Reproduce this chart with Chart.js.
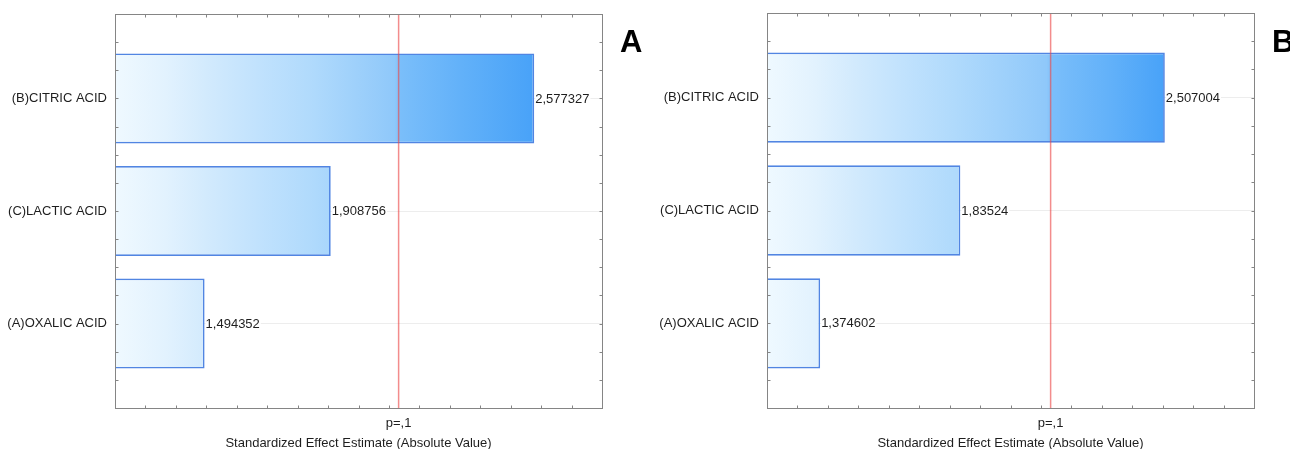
<!DOCTYPE html>
<html>
<head>
<meta charset="utf-8">
<script src="https://cdn.jsdelivr.net/npm/chart.js@4/dist/chart.umd.min.js"></script>
<style>
  html, body { margin: 0; padding: 0; background: #fff; overflow: hidden; }
  #wrap { position: relative; width: 1290px; height: 449px; }
  #wrap canvas { position: absolute; top: 0; }
</style>
</head>
<body>
<div id="wrap">
  <canvas id="chartA" width="645" height="449" style="left:0"></canvas>
  <canvas id="chartB" width="645" height="449" style="left:645px"></canvas>
</div>
<script>
// Pareto chart of standardized effects, two experiments side by side
const categories = ['(B)CITRIC ACID', '(C)LACTIC ACID', '(A)OXALIC ACID'];
const effectsA = [2.577327, 1.908756, 1.494352];
const effectsB = [2.507004, 1.83524, 1.374602];
const criticalT = 2.1318;          // t value for p = .1
const criticalLabel = 'p=,1';
const panelLetters = ['A', 'B'];
const axisTitle = 'Standardized Effect Estimate (Absolute Value)';
const xRange = [1.2, 2.8];
const yRange = [-0.75, 2.75];
const yMinorStep = 0.25;

const FONT = '"Liberation Sans", Arial, sans-serif';
const TEXT = '#1e1e1e';

// horizontal gradient shared by all bars in a panel, running up to the longest bar
function barGradient(chart) {
  const area = chart.chartArea;
  if (!area) return '#a8d5fc';
  const xs = chart.scales.x;
  const vals = chart.data.datasets[0].data.map(d => d.x);
  const end = xs.getPixelForValue(Math.max(...vals));
  const start = area.left;
  const g = chart.ctx.createLinearGradient(start, 0, end, 0);
  let c = (xs.getPixelForValue(criticalT) - start) / (end - start);
  c = Math.min(0.95, Math.max(0.05, c));
  g.addColorStop(0, '#eff9ff');
  g.addColorStop(0.12, '#e2f2fe');
  g.addColorStop(0.22, '#d2eafd');
  g.addColorStop(0.34, '#c1e2fd');
  g.addColorStop(0.47, '#b0dafc');
  g.addColorStop(c - 0.01, '#8fc8fa');
  g.addColorStop(c + 0.005, '#7abefa');
  g.addColorStop(Math.min(0.99, c + 0.15), '#62b1f9');
  g.addColorStop(1, '#48a2f8');
  return g;
}

const paretoDecor = {
  id: 'paretoDecor',
  afterDatasetsDraw(chart) {
    const { ctx, chartArea: a, scales: { x } } = chart;
    const meta = chart.getDatasetMeta(0);
    ctx.save();
    ctx.font = `13px ${FONT}`;
    ctx.textBaseline = 'middle';
    ctx.textAlign = 'left';
    meta.data.forEach((bar, i) => {
      const v = chart.data.datasets[0].data[i].x;
      const txt = String(v).replace('.', ',');
      const w = ctx.measureText(txt).width;
      ctx.fillStyle = '#fff';
      ctx.fillRect(bar.x + 1, bar.y - 6, w + 1, 12);
      ctx.fillStyle = TEXT;
      ctx.fillText(txt, bar.x + 1, bar.y + 0.5);
    });
    // critical value reference line
    const cx = x.getPixelForValue(criticalT);
    ctx.strokeStyle = 'rgba(236, 70, 70, 0.62)';
    ctx.lineWidth = 1.5;
    ctx.beginPath();
    ctx.moveTo(cx, a.top);
    ctx.lineTo(cx, a.bottom);
    ctx.stroke();
    ctx.restore();
  },
  afterDraw(chart, args, opts) {
    const { ctx, chartArea: a, scales: { x, y } } = chart;
    ctx.save();
    // plot frame
    ctx.strokeStyle = '#858585';
    ctx.lineWidth = 1;
    const L = Math.round(a.left) + 0.5, T = Math.round(a.top) + 0.5;
    const R = Math.round(a.right) + 0.5, B = Math.round(a.bottom) + 0.5;
    ctx.strokeRect(L, T, R - L, B - T);
    // inward tick marks on all four sides
    ctx.beginPath();
    x.ticks.forEach(t => {
      if (t.value === criticalT) return;
      const px = Math.round(x.getPixelForValue(t.value)) + 0.5;
      ctx.moveTo(px, T); ctx.lineTo(px, T + 3);
      ctx.moveTo(px, B); ctx.lineTo(px, B - 3);
    });
    const nMinor = Math.round((yRange[1] - yRange[0]) / yMinorStep);
    for (let k = 0; k <= nMinor; k++) {
      const py = Math.round(y.getPixelForValue(yRange[0] + k * yMinorStep)) + 0.5;
      ctx.moveTo(L, py); ctx.lineTo(L + 3, py);
      ctx.moveTo(R, py); ctx.lineTo(R - 3, py);
    }
    ctx.stroke();
    // panel letter
    if (opts && opts.letter) {
      ctx.font = `bold 31px ${FONT}`;
      ctx.fillStyle = '#000';
      ctx.textBaseline = 'alphabetic';
      ctx.textAlign = 'left';
      ctx.fillText(opts.letter, a.right + 18, 52);
    }
    ctx.restore();
  }
};

function makePareto(canvasId, values, letter, frame) {
  return new Chart(document.getElementById(canvasId), {
    type: 'bar',
    data: {
      datasets: [{
        data: values.map((v, i) => ({ x: v, y: i })),
        backgroundColor: ctx => barGradient(ctx.chart),
        borderColor: '#5185e2',
        borderWidth: 1.7,
        borderSkipped: false,
        barPercentage: 1,
        categoryPercentage: 0.8
      }]
    },
    options: {
      indexAxis: 'y',
      responsive: false,
      animation: false,
      layout: { padding: { top: frame.top, right: frame.right, left: 0, bottom: 0 } },
      plugins: {
        legend: { display: false },
        tooltip: { enabled: false },
        paretoDecor: { letter }
      },
      scales: {
        x: {
          type: 'linear',
          min: xRange[0],
          max: xRange[1],
          ticks: {
            stepSize: 0.1,
            autoSkip: false,
            maxRotation: 0,
            padding: 8,
            color: TEXT,
            font: { family: FONT, size: 13 },
            callback: v => (v === criticalT ? criticalLabel : '')
          },
          afterBuildTicks: s => {
            s.ticks.push({ value: criticalT });
            s.ticks.sort((p, q) => p.value - q.value);
          },
          grid: { display: false, drawTicks: false },
          border: { display: false },
          title: {
            display: true,
            text: axisTitle,
            color: TEXT,
            font: { family: FONT, size: 13, lineHeight: 1 },
            padding: { top: 0, bottom: -1 }
          },
          afterFit: s => {
            s.height = 41;
            s.paddingLeft = 0;
            s.paddingRight = 0;
          }
        },
        y: {
          type: 'linear',
          reverse: true,
          offset: false,
          min: yRange[0],
          max: yRange[1],
          ticks: {
            autoSkip: false,
            padding: 8,
            color: TEXT,
            font: { family: FONT, size: 13 },
            callback: v => (Number.isInteger(v) ? categories[v] : '')
          },
          afterBuildTicks: s => {
            s.ticks = categories.map((_, i) => ({ value: i }));
          },
          grid: {
            offset: false,
            drawTicks: false,
            color: '#ededed'
          },
          border: { display: false },
          afterFit: s => {
            s.width = frame.left;
            s.paddingTop = 0;
            s.paddingBottom = 0;
          }
        }
      }
    },
    plugins: [paretoDecor]
  });
}

makePareto('chartA', effectsA, panelLetters[0], { top: 14, right: 43, left: 115 });
makePareto('chartB', effectsB, panelLetters[1], { top: 13, right: 36, left: 122 });
</script>
</body>
</html>
